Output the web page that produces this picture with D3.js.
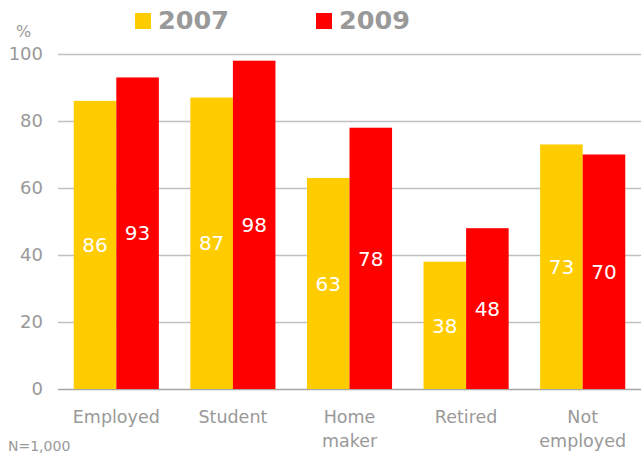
<!DOCTYPE html>
<html>
<head>
<meta charset="utf-8">
<script src="https://cdn.jsdelivr.net/npm/d3@7"></script>
<style>
  body { margin: 0; background: #fff; }
  text { font-family: "DejaVu Sans", Verdana, sans-serif; }
</style>
</head>
<body>
<div id="chart"></div>
<script>
// data
const categories = ["Employed", "Student", "Home\nmaker", "Retired", "Not\nemployed"];
const seriesNames = ["2007", "2009"];
const values2007 = [86, 87, 63, 38, 73];
const values2009 = [93, 98, 78, 48, 70];
const yTicks = [0, 20, 40, 60, 80, 100];

const colors = { "2007": "#FFCC00", "2009": "#FF0000" };

const width = 641, height = 457;
const margin = { top: 54, right: 0, bottom: 68, left: 58 };

const svg = d3.select("#chart").append("svg")
  .attr("width", width)
  .attr("height", height);

const y = d3.scaleLinear()
  .domain([0, 100])
  .range([height - margin.bottom, margin.top]);

const x0 = d3.scaleBand()
  .domain(categories)
  .range([margin.left, width - margin.right])
  .paddingInner(0.27)
  .paddingOuter(0.135);

const x1 = d3.scaleBand()
  .domain(seriesNames)
  .range([0, x0.bandwidth()]);

// gridlines
svg.append("g")
  .selectAll("line")
  .data(yTicks)
  .join("line")
  .attr("x1", margin.left)
  .attr("x2", width - margin.right)
  .attr("y1", d => y(d) + 0.5)
  .attr("y2", d => y(d) + 0.5)
  .attr("stroke", d => d === 0 ? "#a6a6a6" : "#c0c0c0")
  .attr("stroke-width", 1.3);

// y tick labels
svg.append("g")
  .selectAll("text")
  .data(yTicks)
  .join("text")
  .attr("x", 43)
  .attr("y", d => y(d))
  .attr("dy", "0.36em")
  .attr("text-anchor", "end")
  .attr("font-size", 18)
  .attr("fill", "#999")
  .text(d => d);

svg.append("text")
  .attr("x", 16)
  .attr("y", 37)
  .attr("font-size", 16)
  .attr("fill", "#999")
  .text("%");

// bars
const rows = categories.map((c, i) => ({
  cat: c,
  items: [
    { name: "2007", value: values2007[i] },
    { name: "2009", value: values2009[i] }
  ]
}));

const groups = svg.append("g")
  .selectAll("g")
  .data(rows)
  .join("g")
  .attr("transform", d => `translate(${x0(d.cat)},0)`);

groups.selectAll("rect")
  .data(d => d.items)
  .join("rect")
  .attr("x", d => x1(d.name))
  .attr("width", x1.bandwidth())
  .attr("y", d => y(d.value))
  .attr("height", d => y(0) - y(d.value))
  .attr("fill", d => colors[d.name]);

groups.selectAll("text.val")
  .data(d => d.items)
  .join("text")
  .attr("class", "val")
  .attr("x", d => x1(d.name) + x1.bandwidth() / 2)
  .attr("y", d => (y(0) + y(d.value)) / 2)
  .attr("dy", "0.36em")
  .attr("text-anchor", "middle")
  .attr("font-size", 20)
  .attr("fill", "#fff")
  .text(d => d.value);

// category labels
const catLabels = svg.append("g")
  .selectAll("text")
  .data(categories)
  .join("text")
  .attr("x", d => x0(d) + x0.bandwidth() / 2)
  .attr("y", 423)
  .attr("text-anchor", "middle")
  .attr("font-size", 17.5)
  .attr("fill", "#999");

catLabels.selectAll("tspan")
  .data(d => d.split("\n"))
  .join("tspan")
  .attr("x", function () { return d3.select(this.parentNode).attr("x"); })
  .attr("dy", (d, i) => i === 0 ? 0 : 24)
  .text(d => d);

// legend
const legendX = [135, 316];
const legend = svg.append("g")
  .selectAll("g")
  .data(seriesNames)
  .join("g")
  .attr("transform", (d, i) => `translate(${legendX[i]},13)`);

legend.append("rect")
  .attr("width", 16)
  .attr("height", 16)
  .attr("fill", d => colors[d]);

legend.append("text")
  .attr("x", 23)
  .attr("y", 16)
  .attr("font-size", 25.5)
  .attr("font-weight", "bold")
  .attr("fill", "#999")
  .text(d => d);

// footnote
svg.append("text")
  .attr("x", 8)
  .attr("y", 451)
  .attr("font-size", 14)
  .attr("fill", "#999")
  .text("N=1,000");
</script>
</body>
</html>
